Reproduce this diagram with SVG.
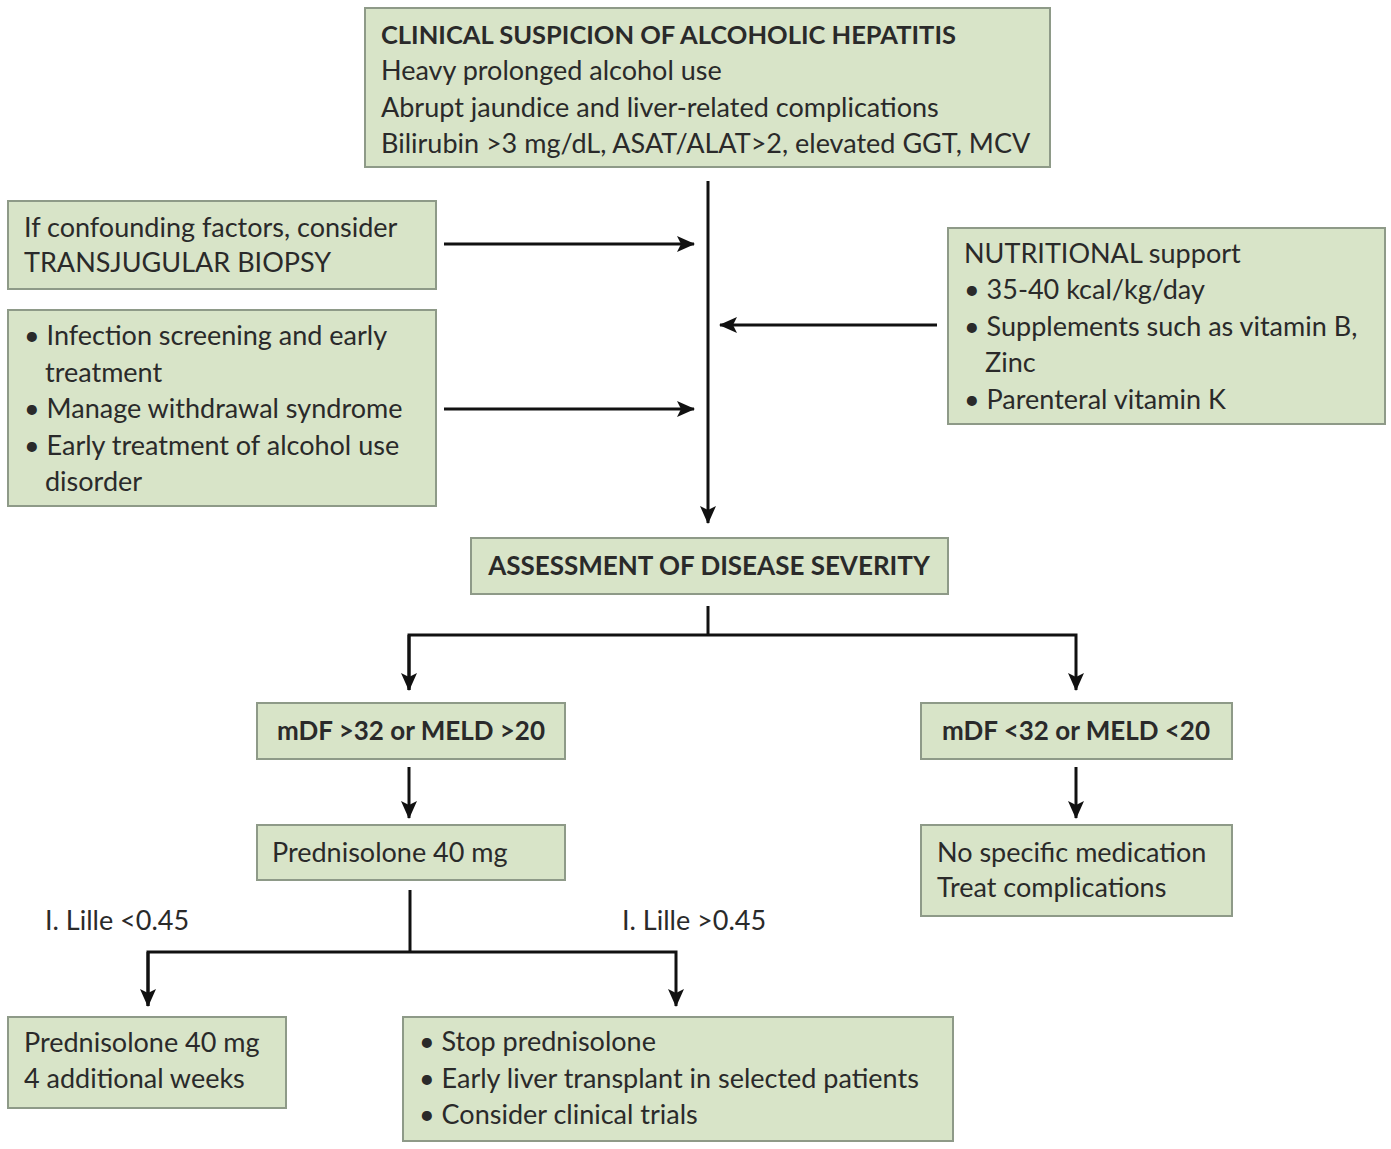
<svg xmlns="http://www.w3.org/2000/svg" width="1391" height="1149" viewBox="0 0 1391 1149">
<defs>
<style>
.box{fill:#d8e4c8;stroke:#8e9a88;stroke-width:2}
.t{font-family:Lato,"Noto Sans",sans-serif;font-size:27px;fill:#2a2a2a}
.b{font-weight:bold;font-size:26px}
.c{stroke:#111;stroke-width:3;fill:none}
</style>
<marker id="ah" viewBox="0 0 18 16" refX="17" refY="8" markerWidth="18" markerHeight="16" markerUnits="userSpaceOnUse" orient="auto">
<path d="M0,0 L18,8 L0,16 L4,8 Z" fill="#111"/>
</marker>
</defs>
<rect width="1391" height="1149" fill="#fff"/>
<g id="connectors">
<line class="c" x1="708" y1="181" x2="708" y2="523" marker-end="url(#ah)"/>
<line class="c" x1="444" y1="244" x2="694" y2="244" marker-end="url(#ah)"/>
<line class="c" x1="444" y1="409" x2="694" y2="409" marker-end="url(#ah)"/>
<line class="c" x1="937" y1="325" x2="720" y2="325" marker-end="url(#ah)"/>
<polyline class="c" points="708,606 708,635"/>
<polyline class="c" points="409,690 409,635 1076,635 1076,690" marker-end="url(#ah)"/>
<line class="c" x1="409" y1="635" x2="409" y2="690" marker-end="url(#ah)"/>
<line class="c" x1="409" y1="767" x2="409" y2="818" marker-end="url(#ah)"/>
<line class="c" x1="1076" y1="767" x2="1076" y2="818" marker-end="url(#ah)"/>
<polyline class="c" points="410,890 410,952"/>
<polyline class="c" points="148,1006 148,952 676,952 676,1006" marker-end="url(#ah)"/>
<line class="c" x1="148" y1="952" x2="148" y2="1006" marker-end="url(#ah)"/>
</g>
<g id="n-top">
<rect class="box" x="365" y="8" width="685" height="159"/>
<text class="t b" x="381" y="44" style="font-size:25.5px">CLINICAL SUSPICION OF ALCOHOLIC HEPATITIS</text>
<text class="t" x="381" y="80">Heavy prolonged alcohol use</text>
<text class="t" x="381" y="117">Abrupt jaundice and liver-related complications</text>
<text class="t" x="381" y="153">Bilirubin &gt;3 mg/dL, ASAT/ALAT&gt;2, elevated GGT, MCV</text>
</g>
<g id="n-biopsy">
<rect class="box" x="8" y="201" width="428" height="88"/>
<text class="t" x="24" y="237">If confounding factors, consider</text>
<text class="t" x="24" y="272">TRANSJUGULAR BIOPSY</text>
</g>
<g id="n-infection">
<rect class="box" x="8" y="310" width="428" height="196"/>
<text class="t" x="24" y="345">• Infection screening and early</text>
<text class="t" x="45" y="382">treatment</text>
<text class="t" x="24" y="418">• Manage withdrawal syndrome</text>
<text class="t" x="24" y="455">• Early treatment of alcohol use</text>
<text class="t" x="45" y="491">disorder</text>
</g>
<g id="n-nutrition">
<rect class="box" x="948" y="228" width="437" height="196"/>
<text class="t" x="964" y="263">NUTRITIONAL support</text>
<text class="t" x="964" y="299">• 35-40 kcal/kg/day</text>
<text class="t" x="964" y="336">• Supplements such as vitamin B,</text>
<text class="t" x="985" y="372">Zinc</text>
<text class="t" x="964" y="409">• Parenteral vitamin K</text>
</g>
<g id="n-assess">
<rect class="box" x="471" y="538" width="477" height="56"/>
<text class="t b" x="709" y="575" text-anchor="middle">ASSESSMENT OF DISEASE SEVERITY</text>
</g>
<g id="n-severe">
<rect class="box" x="257" y="703" width="308" height="56"/>
<text class="t b" x="411" y="740" text-anchor="middle">mDF &gt;32 or MELD &gt;20</text>
</g>
<g id="n-mild">
<rect class="box" x="921" y="703" width="311" height="56"/>
<text class="t b" x="1076" y="740" text-anchor="middle">mDF &lt;32 or MELD &lt;20</text>
</g>
<g id="n-pred">
<rect class="box" x="257" y="825" width="308" height="55"/>
<text class="t" x="272" y="862">Prednisolone 40 mg</text>
</g>
<g id="n-nospecific">
<rect class="box" x="921" y="825" width="311" height="91"/>
<text class="t" x="937" y="862">No specific medication</text>
<text class="t" x="937" y="897">Treat complications</text>
</g>
<g id="labels">
<text class="t" x="45" y="930">I. Lille &lt;0.45</text>
<text class="t" x="622" y="930">I. Lille &gt;0.45</text>
</g>
<g id="n-pred4">
<rect class="box" x="8" y="1017" width="278" height="91"/>
<text class="t" x="24" y="1052">Prednisolone 40 mg</text>
<text class="t" x="24" y="1088">4 additional weeks</text>
</g>
<g id="n-stop">
<rect class="box" x="403" y="1017" width="550" height="124"/>
<text class="t" x="419" y="1051">• Stop prednisolone</text>
<text class="t" x="419" y="1088">• Early liver transplant in selected patients</text>
<text class="t" x="419" y="1124">• Consider clinical trials</text>
</g>
</svg>
